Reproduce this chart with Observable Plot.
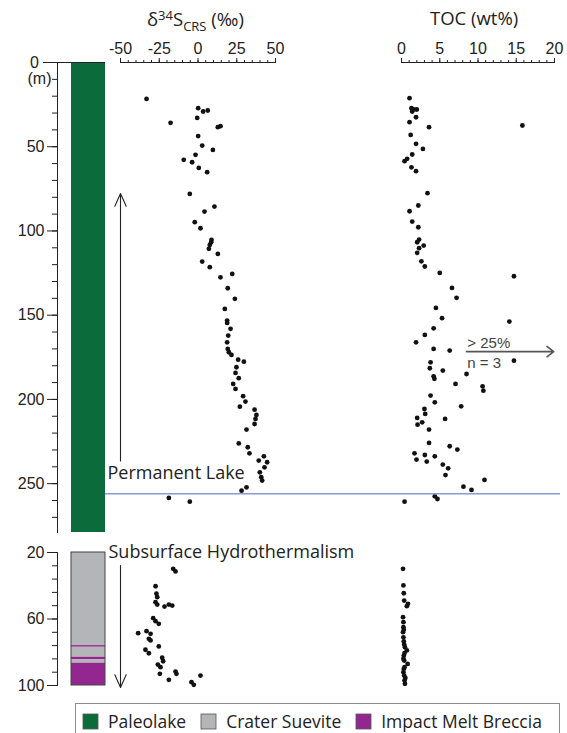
<!DOCTYPE html>
<html><head><meta charset="utf-8">
<script src="https://cdn.jsdelivr.net/npm/d3@7"></script>
<script src="https://cdn.jsdelivr.net/npm/@observablehq/plot@0.6"></script>
<style>
body{margin:0;background:#fff;}
#wrap{position:relative;width:567px;height:733px;overflow:hidden;font-family:"Open Sans",sans-serif;color:#222;}
#wrap svg.panel{position:absolute;left:0;top:0;}
.ttl{position:absolute;font-size:18.5px;white-space:nowrap;line-height:1;}
.ttl sup,.ttl sub{font-size:13px;}
.ttl sup{vertical-align:6px;}
.ttl sub{vertical-align:-5px;}
#legend{position:absolute;left:75px;top:703px;width:485px;height:36px;border:1px solid #8c8c8c;box-sizing:border-box;padding-left:7px;display:flex;align-items:flex-start;padding-top:5px;}
.lg-swatches{font-family:"Open Sans",sans-serif;font-size:17.5px;color:#222;margin:0 !important;min-height:0 !important;}
.lg-swatch{margin-right:15px !important;}
.lg-swatch > svg{margin-right:10px !important;}
.lg-swatch rect{stroke:#555;stroke-width:0.8px;}
</style></head><body><div id="wrap"></div>
<script>
// ---------- data ----------
const lithTypes = ["Paleolake", "Crater Suevite", "Impact Melt Breccia"];
const lithColors = ["#0c6b3a", "#b3b5b8", "#93278f"];

const upperLithTop = [0];
const upperLithBottom = [279];
const upperLithType = ["Paleolake"];

const lowerLithTop = [20, 76, 77, 83, 84.6, 86.6];
const lowerLithBottom = [76, 77, 83, 84.6, 86.6, 100];
const lowerLithType = ["Crater Suevite", "Impact Melt Breccia", "Crater Suevite", "Impact Melt Breccia", "Crater Suevite", "Impact Melt Breccia"];

const upperDepthTicks = [0, 50, 100, 150, 200, 250];
const lowerDepthTicks = [20, 60, 100];
const sTicks = [-50, -25, 0, 25, 50];
const tocTicks = [0, 5, 10, 15, 20];

const upperSDepth = [21.6, 27.1, 29.1, 28.5, 32.9, 35.8, 38.4, 37.8, 43.7, 49.3, 51.9, 54.8, 57.8, 59.2, 62.6, 65.1, 78.0, 85.5, 88.5, 94.8, 98.4, 105.3, 108.3, 110.6, 106.7, 113.6, 118.2, 121.5, 127.5, 125.5, 134.0, 140.3, 146.3, 153.2, 154.6, 158.1, 162.1, 166.1, 170.0, 172.0, 173.6, 176.4, 177.6, 180.9, 184.3, 187.4, 190.8, 193.8, 198.1, 201.3, 204.3, 206.1, 209.2, 211.6, 214.6, 217.9, 226.1, 228.4, 232.0, 233.8, 236.3, 237.3, 240.3, 243.3, 246.2, 248.2, 252.2, 254.2, 258.5, 260.7];
const upperS = [-33.2, 0.1, 3.3, 6.3, -0.5, -17.7, 12.8, 14.5, 0.1, 2.7, 9.6, -1.6, -9.2, -3.8, 0.5, 5.9, -5.3, 10.6, 4.2, -2.1, 1.6, 8.7, 7.6, 7.0, 8.5, 12.8, 2.7, 7.6, 14.5, 22.1, 19.2, 23.8, 17.3, 18.8, 18.8, 21.0, 19.5, 18.8, 19.2, 19.9, 21.6, 25.9, 29.6, 24.8, 24.2, 26.3, 22.7, 24.2, 29.1, 30.6, 27.0, 36.5, 37.7, 37.1, 36.5, 31.3, 26.3, 32.1, 33.2, 42.5, 39.2, 44.6, 42.9, 39.9, 40.8, 41.4, 31.3, 28.1, -18.8, -5.3];

const upperTOCDepth = [21.2, 27.1, 27.9, 27.9, 29.1, 32.5, 35.4, 38.4, 37.4, 43.0, 48.3, 51.3, 54.6, 57.2, 58.6, 62.2, 64.5, 77.6, 84.9, 88.3, 94.4, 97.8, 105.1, 106.7, 108.7, 110.2, 113.0, 118.0, 121.1, 124.9, 126.9, 133.8, 139.7, 145.7, 151.8, 153.8, 157.8, 161.7, 166.1, 170.0, 171.0, 177.0, 178.0, 181.5, 182.9, 186.3, 187.8, 184.9, 190.8, 192.2, 194.8, 197.7, 201.7, 204.1, 205.7, 208.6, 211.0, 213.6, 215.0, 211.6, 217.9, 225.8, 227.8, 229.8, 232.0, 233.0, 233.8, 235.7, 236.9, 238.7, 240.9, 244.9, 247.8, 251.8, 253.7, 257.5, 259.1, 260.7];
const upperTOC = [1.05, 1.3, 1.6, 2.0, 1.4, 1.9, 1.05, 3.6, 15.8, 1.2, 1.9, 2.8, 1.4, 0.74, 0.4, 1.3, 1.9, 3.4, 2.2, 1.05, 1.4, 2.2, 2.3, 2.05, 2.9, 2.3, 2.05, 2.6, 3.05, 5.0, 14.7, 6.6, 7.2, 4.5, 5.3, 14.1, 4.2, 3.05, 1.9, 4.2, 6.3, 14.7, 3.8, 3.7, 5.4, 4.2, 4.3, 8.5, 7.06, 10.6, 10.7, 3.8, 4.35, 7.8, 3.0, 3.1, 2.05, 2.7, 2.1, 5.7, 3.6, 3.6, 6.3, 7.3, 1.7, 3.05, 4.35, 1.96, 3.3, 5.4, 6.1, 5.75, 10.85, 8.1, 9.15, 4.35, 4.7, 0.4];

const lowerSDepth = [29.8, 31.4, 40.3, 44.8, 46.9, 49.9, 51.3, 52.5, 51.3, 51.9, 59.5, 61.3, 62.9, 68.5, 67.3, 68.9, 71.9, 72.9, 76.5, 78.5, 80.6, 83.3, 85.4, 87.4, 89.0, 93.0, 91.6, 93.0, 96.6, 98.0, 99.6, 94.0];
const lowerS = [-16.0, -14.5, -27.4, -26.8, -26.3, -27.4, -26.3, -21.6, -18.8, -16.6, -28.9, -27.4, -25.3, -38.6, -33.2, -30.6, -31.7, -30.6, -25.3, -33.9, -31.7, -23.1, -22.5, -25.9, -24.2, -24.6, -14.5, -13.9, -18.8, -4.2, -2.7, 1.6];

const lowerTOCDepth = [29.8, 39.8, 44.5, 48.9, 50.9, 52.3, 58.9, 61.9, 64.9, 66.5, 67.9, 71.0, 73.5, 75.3, 77.0, 78.9, 80.5, 82.0, 83.9, 85.0, 87.0, 89.0, 90.0, 92.0, 94.0, 95.5, 97.0, 99.0];
const lowerTOC = [0.2, 0.25, 0.3, 0.35, 0.85, 0.7, 0.2, 0.25, 0.25, 0.3, 0.2, 0.25, 0.3, 0.35, 0.45, 0.7, 0.4, 0.3, 0.25, 0.35, 0.8, 0.4, 0.3, 0.25, 0.35, 0.5, 0.4, 0.45];

// annotations (data units)
const lakeBaseDepth = 256;
const lakeArrow = {x: -50, from: 236.5, to: 77.8};
const hydroArrow = {x: -50, from: 27.8, to: 101.2};
const offscale = {x1: 8.5, x2: 19.9, y: 171.6, labelX: 8.6, label1: "> 25%", label1Y: 166.8, label2: "n = 3", label2Y: 178.6};

// ---------- helpers ----------
const zip = (d, v) => d.map((di, i) => ({d: di, v: v[i]}));
const lith = (t, b, k) => t.map((ti, i) => ({top: ti, bottom: b[i], type: k[i]}));
const W = 567, H = 700;
const upperY = {domain: [0, 279], reverse: true};
const lowerY = {domain: [20, 100], reverse: true};
const UM = {marginTop: 62, marginBottom: H - 532};
const LM = {marginTop: 552, marginBottom: H - 685};
const ink = "#222";
const baseStyle = {background: "transparent", overflow: "visible", fontFamily: "'Liberation Sans', Arial, sans-serif", fontSize: "16px", color: ink};
const colorScale = {domain: lithTypes, range: lithColors};
const dotOpts = {r: 2.4, fill: "#111", stroke: "none"};
const annoFont = {fontFamily: "'Open Sans', sans-serif", fontSize: 18, fill: ink};

function panel(opts) {
  const svg = Plot.plot({width: W, height: H, style: baseStyle, ...opts});
  svg.classList.add("panel");
  document.getElementById("wrap").appendChild(svg);
}

const upperLith = lith(upperLithTop, upperLithBottom, upperLithType);
const lowerLith = lith(lowerLithTop, lowerLithBottom, lowerLithType);
const lowerExtent = [{top: d3.min(lowerLithTop), bottom: d3.max(lowerLithBottom)}];

// ---------- upper panel ----------
panel({
  ...UM, marginLeft: 57, marginRight: W - 105,
  y: upperY, color: colorScale,
  marks: [
    Plot.rect(upperLith, {y1: "top", y2: "bottom", fill: "type", insetLeft: 14}),
    Plot.frame({anchor: "left", stroke: ink}),
    Plot.ruleY([upperDepthTicks[0]], {stroke: ink}),
    Plot.axisY({ticks: d3.range(10, 280, 10), tickSize: 5, tickFormat: () => "", label: null, stroke: ink}),
    Plot.axisY({ticks: upperDepthTicks.slice(1), tickSize: 10, tickPadding: 3, label: null, stroke: ink, tickFormat: d => String(d)}),
    Plot.axisY({ticks: [upperDepthTicks[0]], tickSize: 14, tickFormat: () => "", label: null, stroke: ink}),
    Plot.text([upperDepthTicks[0]], {y: d => d, text: d => String(d), frameAnchor: "left", dx: -23, textAnchor: "middle", fill: ink}),
    Plot.text(["(m)"], {y: () => upperDepthTicks[0], text: d => d, frameAnchor: "left", dx: -18, dy: 16, textAnchor: "middle", fill: ink})
  ]
});

panel({
  ...UM, marginLeft: 120, marginRight: W - 275,
  x: {domain: [-50, 50]}, y: {...upperY, axis: null},
  marks: [
    Plot.ruleY([0], {stroke: ink}),
    Plot.axisX({anchor: "top", ticks: d3.range(-50, 51, 5), tickSize: 3, tickFormat: () => "", label: null, stroke: ink}),
    Plot.axisX({anchor: "top", ticks: sTicks, tickSize: 5, tickPadding: 4, tickFormat: d => String(d), label: null, stroke: ink}),
    Plot.dot(zip(upperSDepth, upperS), {x: "v", y: "d", ...dotOpts}),
    Plot.arrow([lakeArrow], {x: "x", y1: "from", y2: "to", stroke: ink, strokeWidth: 1.1, headLength: 19, headAngle: 48})
  ]
});

panel({
  ...UM, marginLeft: 401, marginRight: W - 554,
  x: {domain: [0, 20]}, y: {...upperY, axis: null},
  marks: [
    Plot.ruleY([0], {stroke: ink}),
    Plot.axisX({anchor: "top", ticks: d3.range(0, 21, 1), tickSize: 3, tickFormat: () => "", label: null, stroke: ink}),
    Plot.axisX({anchor: "top", ticks: tocTicks, tickSize: 5, tickPadding: 4, tickFormat: d => String(d), label: null, stroke: ink}),
    Plot.dot(zip(upperTOCDepth, upperTOC), {x: "v", y: "d", ...dotOpts}),
    Plot.arrow([offscale], {x1: "x1", x2: "x2", y: "y", stroke: "#555", strokeWidth: 1.6, headLength: 8, headAngle: 75}),
    Plot.text([offscale], {x: "labelX", y: "label1Y", text: "label1", textAnchor: "start", fill: "#444", fontSize: 15}),
    Plot.text([offscale], {x: "labelX", y: "label2Y", text: "label2", textAnchor: "start", fill: "#444", fontSize: 15})
  ]
});

panel({
  ...UM, marginLeft: 105, marginRight: 7,
  y: {...upperY, axis: null},
  marks: [
    Plot.ruleY([lakeBaseDepth], {stroke: "#8c97d8", strokeWidth: 1.6}),
    Plot.text(["Permanent Lake"], {y: () => 244, text: d => d, frameAnchor: "left", dx: 2, textAnchor: "start", ...annoFont})
  ]
});

// ---------- lower panel ----------
panel({
  ...LM, marginLeft: 57, marginRight: W - 105,
  y: lowerY, color: colorScale,
  marks: [
    Plot.rect(lowerLith, {y1: "top", y2: "bottom", fill: "type", insetLeft: 14}),
    Plot.rect(lowerExtent, {y1: "top", y2: "bottom", insetLeft: 14, fill: "none", stroke: "#444", strokeWidth: 1}),
    Plot.frame({anchor: "left", stroke: ink}),
    Plot.axisY({ticks: d3.range(28, 100, 8), tickSize: 5, tickFormat: () => "", label: null, stroke: ink}),
    Plot.axisY({ticks: lowerDepthTicks, tickSize: 10, tickPadding: 3, label: null, stroke: ink, tickFormat: d => String(d)})
  ]
});

panel({
  ...LM, marginLeft: 120, marginRight: W - 275,
  x: {domain: [-50, 50], axis: null}, y: {...lowerY, axis: null},
  marks: [
    Plot.dot(zip(lowerSDepth, lowerS), {x: "v", y: "d", ...dotOpts}),
    Plot.arrow([hydroArrow], {x: "x", y1: "from", y2: "to", stroke: ink, strokeWidth: 1.1, headLength: 19, headAngle: 48})
  ]
});

panel({
  ...LM, marginLeft: 401, marginRight: W - 554,
  x: {domain: [0, 20], axis: null}, y: {...lowerY, axis: null},
  marks: [
    Plot.dot(zip(lowerTOCDepth, lowerTOC), {x: "v", y: "d", ...dotOpts})
  ]
});

panel({
  ...LM, marginLeft: 105, marginRight: 7,
  y: {...lowerY, axis: null},
  marks: [
    Plot.text(["Subsurface Hydrothermalism"], {y: () => lowerDepthTicks[0], text: d => d, frameAnchor: "left", dx: 3, textAnchor: "start", ...annoFont})
  ]
});

// ---------- titles ----------
const wrap = document.getElementById("wrap");
const t1 = document.createElement("div");
t1.className = "ttl"; t1.style.left = "147px"; t1.style.top = "9px";
t1.innerHTML = "δ<sup>34</sup>S<sub>CRS</sub> (‰)";
wrap.appendChild(t1);
const t2 = document.createElement("div");
t2.className = "ttl"; t2.style.left = "430px"; t2.style.top = "9px";
t2.textContent = "TOC (wt%)";
wrap.appendChild(t2);

// ---------- legend ----------
const lg = document.createElement("div");
lg.id = "legend";
lg.appendChild(Plot.legend({color: {type: "categorical", ...colorScale}, swatchSize: 15, className: "lg"}));
wrap.appendChild(lg);
</script>
</body></html>
